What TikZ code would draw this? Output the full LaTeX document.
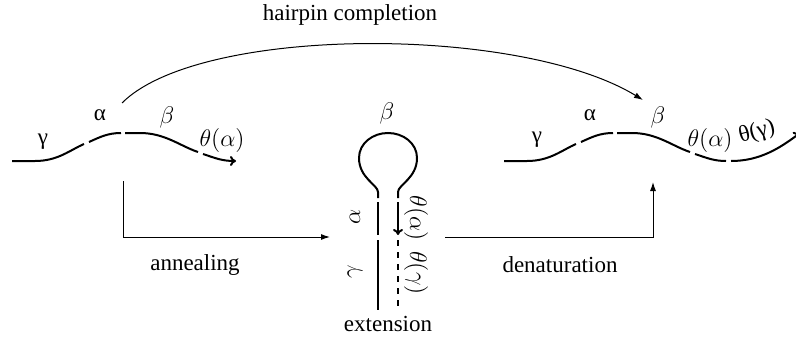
\documentclass[tikz,border=0pt]{standalone}
\usepackage{fontspec}
\setmainfont{Liberation Serif}
\usetikzlibrary{arrows.meta,positioning}
\tikzset{
  strand/.style={line width=1pt},
  strandtip/.style={strand, -{To[length=3pt,width=5pt]}},
  flow/.style={-{Latex[length=4.5pt,width=3pt]}, line width=0.5pt},
  lbl/.style={inner sep=0pt}
}

\begin{document}
\begin{tikzpicture}[x=0.5pt, y=-0.5pt, font=\fontsize{11.5}{14}\selectfont]
\useasboundingbox (0,0) rectangle (796,337);

% left strand
\draw[strand] (12,161) -- (35,161) .. controls (58,161) and (70,150) .. (84,144);
\draw[strand] (89,142) .. controls (100,137) and (108,133) .. (121,133);
\draw[strand] (125,133) -- (140,133) .. controls (165,133) and (180,146) .. (198,152);
\draw[strandtip] (203,154) .. controls (215,158) and (222,161) .. (236,161);
\node[lbl] (lgamma) at (43,142) {γ};
\node[lbl] (lalpha) at (100,115) {α};
\node[lbl] (lbeta) at (167,117) {$\beta$};
\node[lbl] (ltheta) at (222,140) {$\theta(\alpha)$};

% hairpin
\draw[strand] (378,198) -- (378,192) .. controls (378,185) and (359,178) .. (359,158)
  .. controls (359,143) and (373,133) .. (388,133)
  .. controls (403,133) and (417,143) .. (417,158)
  .. controls (417,178) and (398,185) .. (398,192) -- (398,198);
\draw[strand] (378,202) -- (378,235);
\draw[strand] (378,240) -- (378,310);
\draw[strandtip] (398,202) -- (398,235);
\draw[strand, dashed] (398,240) -- (398,310);
\node[lbl] (hbeta) at (387,113) {$\beta$};
\node[lbl, rotate=90] (halpha) at (355,217) {$\alpha$};
\node[lbl, rotate=90] (hgamma) at (355,272) {$\gamma$};
\node[lbl, rotate=-90] (htheta1) at (416,218) {$\theta(\alpha)$};
\node[lbl, rotate=-90] (htheta2) at (416,273) {$\theta(\gamma)$};
\node[lbl] (ext) at (388,324) {extension};

% right strand
\draw[strand] (504,161) -- (527,161) .. controls (550,161) and (562,150) .. (576,144);
\draw[strand] (581,142) .. controls (592,137) and (600,133) .. (613,133);
\draw[strand] (617,133) -- (632,133) .. controls (657,133) and (672,146) .. (690,152);
\draw[strand] (695,154) .. controls (707,158) and (714,161) .. (726,161);
\draw[strandtip] (731,161) .. controls (760,161) and (780,148) .. (800,133);
\node[lbl] (rgamma) at (537,140) {γ};
\node[lbl] (ralpha) at (590,115) {α};
\node[lbl] (rbeta) at (658,117) {$\beta$};
\node[lbl] (rtheta1) at (710,140) {$\theta(\alpha)$};
\node[lbl, rotate=15] (rtheta2) at (757,132) {θ(γ)};

% reactions
\coordinate (hcstart) at (122,103);
\coordinate (hcend) at (643,100);
\draw[flow] (hcstart) .. controls (200,25) and (520,25) .. (hcend);
\node[lbl] (hc) at (350,15) {hairpin completion};

\coordinate (annstart) at (123,181);
\coordinate (annend) at (330,237);
\draw[flow] (annstart) |- (annend);
\node[lbl] (ann) at (195,265) {annealing};

\coordinate (denstart) at (445,237);
\coordinate (denend) at (653,182);
\draw[flow] (denstart) -| (denend);
\node[lbl] (den) at (560,265) {denaturation};
\end{tikzpicture}
\end{document}
